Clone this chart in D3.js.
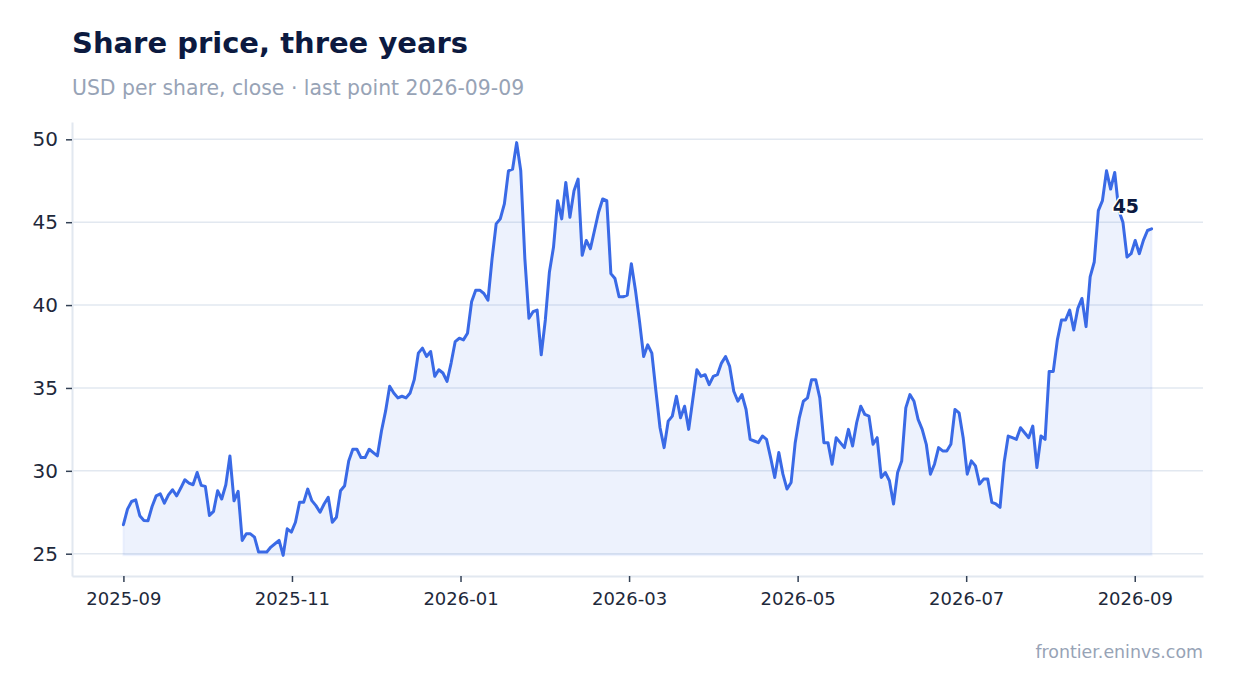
<!DOCTYPE html>
<html>
<head>
<meta charset="utf-8">
<script src="https://cdn.jsdelivr.net/npm/d3@7/dist/d3.min.js"></script>
<style>
  html, body { margin: 0; padding: 0; background: #ffffff; }
  svg { display: block; font-family: "DejaVu Sans", sans-serif; }
</style>
</head>
<body>
<svg id="chart" width="1234" height="693"></svg>
<script>
// ---- data ----
const titleText = "Share price, three years";
const subtitleText = "USD per share, close · last point 2026-09-09";
const footerText = "frontier.eninvs.com";
// x position is measured in months elapsed since 2025-09 (trading-month axis)
const monthsCovered = 12.2;
const xTickMonths = [0, 2, 4, 6, 8, 10, 12];
const xTickLabels = ["2025-09", "2025-11", "2026-01", "2026-03", "2026-05", "2026-07", "2026-09"];
const yTickValues = [25, 30, 35, 40, 45, 50];
const prices = [
  26.75, 27.69, 28.15, 28.25, 27.29, 27.01, 26.99, 27.85, 28.49, 28.61,
  28.05, 28.55, 28.86, 28.49, 28.96, 29.46, 29.26, 29.16, 29.90, 29.12,
  29.06, 27.31, 27.55, 28.80, 28.30, 29.16, 30.90, 28.19, 28.76,
  25.8, 26.2, 26.2, 26.0, 25.1, 25.1, 25.1, 25.4, 25.6, 25.8,
  24.9, 26.5, 26.3, 26.9, 28.1, 28.1, 28.9, 28.2, 27.9, 27.5,
  28.0, 28.4, 26.9, 27.2, 28.8, 29.1, 30.6, 31.3, 31.3, 30.8,
  30.8, 31.3, 31.1, 30.9, 32.4, 33.6, 35.1, 34.7, 34.4, 34.5,
  34.4, 34.7, 35.5, 37.1, 37.4, 36.9, 37.2, 35.7, 36.1, 35.9,
  35.4, 36.5, 37.8, 38.0, 37.9, 38.3, 40.2, 40.9, 40.9, 40.7,
  40.3, 42.8, 44.9, 45.2, 46.1, 48.1, 48.2, 49.8, 48.1, 42.8,
  39.2, 39.6, 39.7, 37.0, 39.1, 42.0, 43.5, 46.3, 45.2, 47.4,
  45.3, 46.9, 47.6, 43.0, 43.9, 43.4, 44.5, 45.6, 46.4, 46.3,
  41.9, 41.6, 40.5, 40.5, 40.6, 42.5, 40.9, 39.0, 36.9, 37.6,
  37.1, 34.8, 32.6, 31.4, 33.0, 33.3, 34.5, 33.2, 33.9, 32.5,
  34.3, 36.1, 35.7, 35.8, 35.2, 35.7, 35.8, 36.5, 36.9, 36.3,
  34.8, 34.2, 34.6, 33.7, 31.9, 31.8, 31.7, 32.1, 31.9, 30.8,
  29.6, 31.1, 29.8, 28.9, 29.3, 31.7, 33.2, 34.2, 34.4, 35.5,
  35.5, 34.4, 31.7, 31.7, 30.4, 32.0, 31.7, 31.4, 32.5, 31.5,
  32.9, 33.9, 33.4, 33.3, 31.6, 32.0, 29.6, 29.9, 29.4, 28.0,
  29.9, 30.6, 33.8, 34.6, 34.2, 33.1, 32.5, 31.6, 29.8, 30.4,
  31.4, 31.2, 31.2, 31.6, 33.7, 33.5, 32.0, 29.8, 30.6, 30.3,
  29.2, 29.5, 29.5, 28.1, 28.0, 27.8, 30.5, 32.1, 32.0, 31.9,
  32.6, 32.3, 32.0, 32.7, 30.2, 32.1, 31.9, 36.0, 36.0, 37.9,
  39.1, 39.1, 39.7, 38.5, 39.8, 40.4, 38.7, 41.7, 42.6, 45.7,
  46.3, 48.1, 47.0, 48.0, 45.7, 45.0, 42.9, 43.1, 43.9, 43.1,
  43.9, 44.5, 44.6
];

// ---- series: evenly spaced observations over the covered months ----
const n = prices.length;
const series = prices.map((v, i) => ({ m: monthsCovered * i / (n - 1), value: v }));

// ---- layout ----
const svg = d3.select("#chart");
const plot = { left: 72, right: 1203, top: 122, bottom: 576 };

const xExt = d3.extent(series, d => d.m);
const xPad = (xExt[1] - xExt[0]) * 0.05;
const x = d3.scaleLinear()
  .domain([xExt[0] - xPad, xExt[1] + xPad])
  .range([plot.left, plot.right]);

const yExt = d3.extent(series, d => d.value);
const yPad = (yExt[1] - yExt[0]) * 0.05;
const y = d3.scaleLinear()
  .domain([yExt[0] - yPad, yExt[1] + yPad])
  .range([plot.bottom, plot.top]);

// ---- titles ----
svg.append("text")
  .attr("x", 72).attr("y", 53)
  .attr("font-size", 29).attr("font-weight", "bold")
  .attr("fill", "#0c1a40")
  .text(titleText);

svg.append("text")
  .attr("x", 72).attr("y", 95)
  .attr("font-size", 20.4)
  .attr("fill", "#97a3b6")
  .text(subtitleText);

svg.append("text")
  .attr("x", 1203).attr("y", 658)
  .attr("text-anchor", "end")
  .attr("font-size", 17.4)
  .attr("fill", "#97a3b6")
  .text(footerText);

// ---- gridlines ----
svg.append("g")
  .selectAll("line")
  .data(yTickValues)
  .join("line")
  .attr("x1", plot.left).attr("x2", plot.right)
  .attr("y1", d => y(d)).attr("y2", d => y(d))
  .attr("stroke", "#e2e8f0").attr("stroke-width", 1.5);

// ---- axes ----
const yAxis = svg.append("g")
  .attr("transform", `translate(${plot.left},0)`)
  .call(d3.axisLeft(y).tickValues(yTickValues).tickSize(6).tickPadding(8).tickSizeOuter(0));
yAxis.select(".domain").attr("stroke", "#e2e8f0").attr("stroke-width", 2);
yAxis.selectAll(".tick line").attr("stroke", "#334155").attr("stroke-width", 1.5);
yAxis.selectAll(".tick text")
  .attr("font-size", 20).attr("fill", "#1e293b")
  .attr("font-family", "DejaVu Sans, sans-serif");

const xAxis = svg.append("g")
  .attr("transform", `translate(0,${plot.bottom})`)
  .call(d3.axisBottom(x).tickValues(xTickMonths).tickFormat((d, i) => xTickLabels[i])
    .tickSize(6).tickPadding(10).tickSizeOuter(0));
xAxis.select(".domain").attr("stroke", "#e2e8f0").attr("stroke-width", 2);
xAxis.selectAll(".tick line").attr("stroke", "#334155").attr("stroke-width", 1.5);
xAxis.selectAll(".tick text")
  .attr("font-size", 18).attr("fill", "#1e293b")
  .attr("font-family", "DejaVu Sans, sans-serif");

// ---- area + line ----
const baseVal = yExt[0];
svg.append("path")
  .datum(series)
  .attr("d", d3.area().x(d => x(d.m)).y0(y(baseVal)).y1(d => y(d.value)))
  .attr("fill", "#3b6ee8").attr("fill-opacity", 0.09)
  .attr("stroke", "#3b6ee8").attr("stroke-opacity", 0.06).attr("stroke-width", 2);

svg.append("path")
  .datum(series)
  .attr("d", d3.line().x(d => x(d.m)).y(d => y(d.value)))
  .attr("fill", "none")
  .attr("stroke", "#3a6ae6").attr("stroke-width", 3)
  .attr("stroke-linejoin", "round").attr("stroke-linecap", "round");

// ---- last value label ----
const last = series[series.length - 1];
svg.append("text")
  .attr("x", x(last.m) - 12.5).attr("y", y(last.value) - 15.5)
  .attr("text-anchor", "end")
  .attr("font-size", 19).attr("font-weight", "bold")
  .attr("fill", "#0c1a40")
  .attr("stroke", "#ffffff").attr("stroke-width", 3).attr("paint-order", "stroke")
  .text(d3.format(".0f")(last.value));
</script>
</body>
</html>
